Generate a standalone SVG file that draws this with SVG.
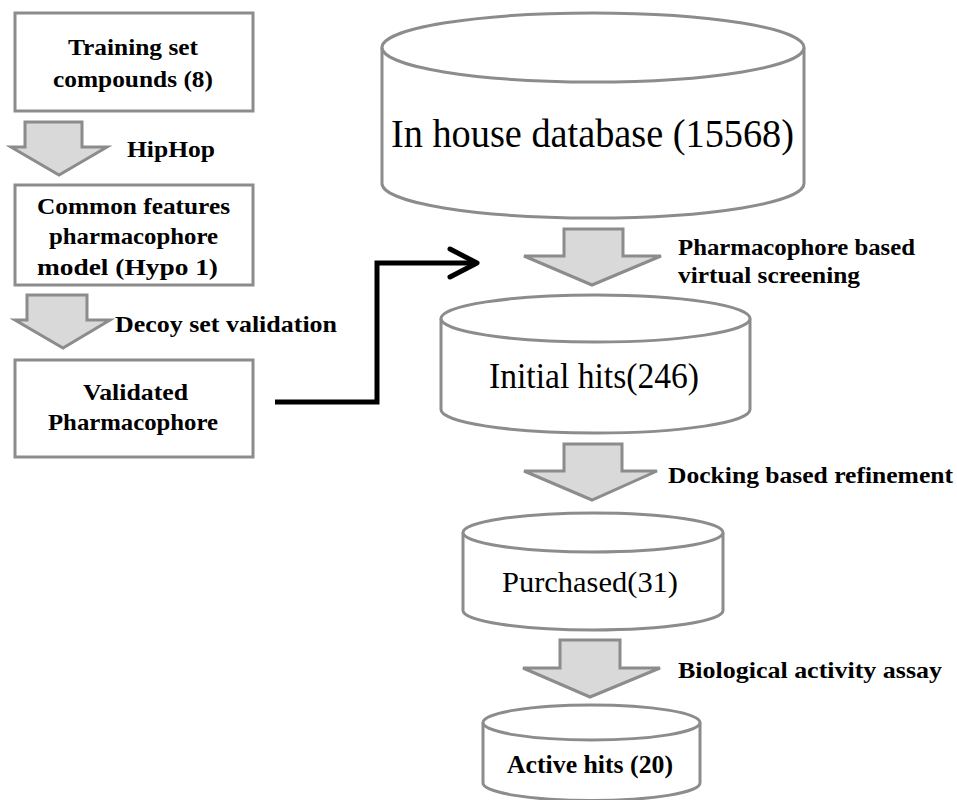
<svg xmlns="http://www.w3.org/2000/svg" width="957" height="800" viewBox="0 0 957 800">
<style>
.box{fill:#fff;stroke:#8c8c8c;stroke-width:3}
.cyl{fill:#fff;stroke:#8c8c8c;stroke-width:3}
.arr{fill:#d9d9d9;stroke:#8c8c8c;stroke-width:3;stroke-linejoin:miter}
.t{font-family:"Liberation Serif","Times New Roman",serif;fill:#000}
.b{font-weight:bold}
.lbl{font-family:"Liberation Serif","Times New Roman",serif;font-weight:bold;font-size:24px;fill:#000}
.conn{fill:none;stroke:#000;stroke-width:5}
</style>
<rect width="957" height="800" fill="#fff"/>

<g id="training">
<rect class="box" x="15" y="13" width="238" height="98"/>
<text class="t b" x="68" y="55" font-size="24" textLength="130" lengthAdjust="spacingAndGlyphs">Training set</text>
<text class="t b" x="53" y="87" font-size="24" textLength="160" lengthAdjust="spacingAndGlyphs">compounds (8)</text>
</g>

<g id="common">
<rect class="box" x="15" y="185" width="238" height="100"/>
<text class="t b" x="37" y="214" font-size="24" textLength="193" lengthAdjust="spacingAndGlyphs">Common features</text>
<text class="t b" x="49" y="244" font-size="24" textLength="169" lengthAdjust="spacingAndGlyphs">pharmacophore</text>
<text class="t b" x="37" y="275" font-size="24" textLength="181" lengthAdjust="spacingAndGlyphs">model (Hypo 1)</text>
</g>

<g id="validated">
<rect class="box" x="15" y="360" width="238" height="97"/>
<text class="t b" x="83" y="400" font-size="24" textLength="105" lengthAdjust="spacingAndGlyphs">Validated</text>
<text class="t b" x="48" y="430" font-size="24" textLength="170" lengthAdjust="spacingAndGlyphs">Pharmacophore</text>
</g>

<g id="database">
<path class="cyl" d="M382,47.5 L382,183.5 A211,34.5 0 0 0 804,183.5 L804,47.5"/>
<ellipse class="cyl" cx="593" cy="47.5" rx="211" ry="34.5"/>
<text class="t" x="391" y="147" font-size="40" textLength="403" lengthAdjust="spacingAndGlyphs">In house database (15568)</text>
</g>

<g id="initial">
<path class="cyl" d="M441,318.5 L441,409.5 A154.5,23.5 0 0 0 750,409.5 L750,318.5"/>
<ellipse class="cyl" cx="595.5" cy="318.5" rx="154.5" ry="23.5"/>
<text class="t" x="489" y="388" font-size="36" textLength="210" lengthAdjust="spacingAndGlyphs">Initial hits(246)</text>
</g>

<g id="purchased">
<path class="cyl" d="M463,532.5 L463,610.5 A130,19.5 0 0 0 723,610.5 L723,532.5"/>
<ellipse class="cyl" cx="593" cy="532.5" rx="130" ry="19.5"/>
<text class="t" x="502" y="592" font-size="30" textLength="176" lengthAdjust="spacingAndGlyphs">Purchased(31)</text>
</g>

<g id="active">
<path class="cyl" d="M483,722.5 L483,783 A108.5,17.5 0 0 0 700,783 L700,722.5"/>
<ellipse class="cyl" cx="591.5" cy="722.5" rx="108.5" ry="17.5"/>
<text class="t b" x="507" y="773" font-size="26" textLength="166" lengthAdjust="spacingAndGlyphs">Active hits (20)</text>
</g>

<g id="connectors">
<polygon class="arr" points="25,122 82,122 82,147 107,147 59,175 11,147 25,147"/>
<text class="lbl" x="127" y="157" textLength="88" lengthAdjust="spacingAndGlyphs">HipHop</text>
<polygon class="arr" points="27,295 87,295 87,320 110,320 63,348 15,320 27,320"/>
<text class="lbl" x="115" y="332" textLength="222" lengthAdjust="spacingAndGlyphs">Decoy set validation</text>
<polygon class="arr" points="564,229 623,229 623,256 661,256 592,285 524,256 564,256"/>
<text class="lbl" x="678" y="255" textLength="237" lengthAdjust="spacingAndGlyphs">Pharmacophore based</text>
<text class="lbl" x="678" y="283" textLength="182" lengthAdjust="spacingAndGlyphs">virtual screening</text>
<polygon class="arr" points="564,444 622,444 622,471 657,471 592,500 524,471 564,471"/>
<text class="lbl" x="668" y="483" textLength="285" lengthAdjust="spacingAndGlyphs">Docking based refinement</text>
<polygon class="arr" points="560,640 620,640 620,668 660,668 590,697 523,668 560,668"/>
<text class="lbl" x="678" y="678" textLength="264" lengthAdjust="spacingAndGlyphs">Biological activity assay</text>
<polyline class="conn" points="275,402 377,402 377,263 476,263"/>
<polyline class="conn" points="450,249 477,263 450,277" stroke-linecap="round" stroke-linejoin="round"/>
</g>
</svg>
